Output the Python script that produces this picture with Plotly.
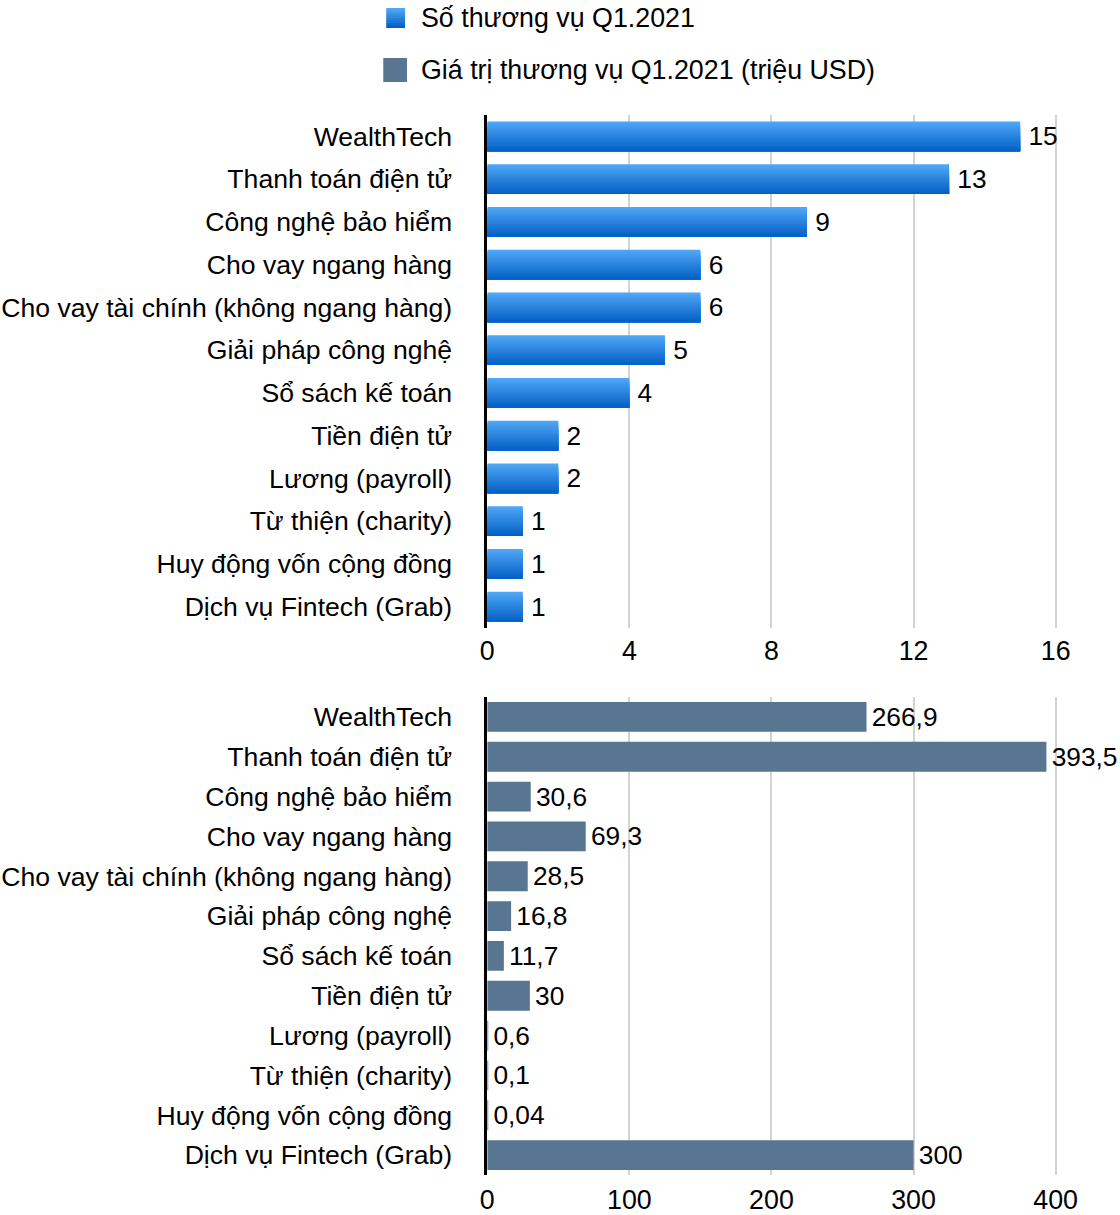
import plotly.graph_objects as go

categories = [
    "WealthTech",
    "Thanh toán điện tử",
    "Công nghệ bảo hiểm",
    "Cho vay ngang hàng",
    "Cho vay tài chính (không ngang hàng)",
    "Giải pháp công nghệ",
    "Sổ sách kế toán",
    "Tiền điện tử",
    "Lương (payroll)",
    "Từ thiện (charity)",
    "Huy động vốn cộng đồng",
    "Dịch vụ Fintech (Grab)",
]
deal_counts = [15, 13, 9, 6, 6, 5, 4, 2, 2, 1, 1, 1]
deal_values = [266.9, 393.5, 30.6, 69.3, 28.5, 16.8, 11.7, 30, 0.6, 0.1, 0.04, 300]
count_ticks = [0, 4, 8, 12, 16]
value_ticks = [0, 100, 200, 300, 400]
legend_labels = ["Số thương vụ Q1.2021", "Giá trị thương vụ Q1.2021 (triệu USD)"]

W, H = 1120, 1215
FONT = "Liberation Sans, Arial, Helvetica, sans-serif"
LIGHT = (78, 166, 246)
DARK = (5, 97, 198)
SLATE = "#587692"
TXT = 26.8
VAL = 26.3
CAT = 26.6


def mix(t):
    return "rgb(%d,%d,%d)" % tuple(round(LIGHT[k] + (DARK[k] - LIGHT[k]) * t) for k in range(3))


def fmt(v, pad="\u2009"):
    return pad + f"{v:g}".replace(".", ",")


def px_x(x):
    return x / W


def px_y(y):
    return 1 - y / H


fig = go.Figure()

# Top chart: gradient bars built from overlapping stripes
N = 14
BW = 0.70
for i in range(N):
    t = i / (N - 1)
    fig.add_trace(go.Bar(
        x=deal_counts, y=categories, orientation="h",
        xaxis="x", yaxis="y",
        marker=dict(color=mix(t), line=dict(width=0)),
        offset=-BW / 2 + i * BW / N, width=BW - i * BW / N,
        text=[fmt(v) for v in deal_counts] if i == 0 else None,
        textposition="outside" if i == 0 else "none",
        textfont=dict(size=VAL, color="black", family=FONT),
        cliponaxis=False, constraintext="none",
        showlegend=False, hoverinfo="skip" if i else "x+y",
    ))

# Bottom chart
fig.add_trace(go.Bar(
    x=deal_values, y=categories, orientation="h",
    xaxis="x2", yaxis="y2",
    marker=dict(color=SLATE, line=dict(width=0)),
    width=0.75,
    text=[fmt(v, "\u200a") for v in deal_values], textposition="outside",
    textfont=dict(size=VAL, color="black", family=FONT),
    cliponaxis=False, constraintext="none",
    showlegend=False,
))

xdom = [px_x(485), px_x(1077)]
axis_common = dict(
    showgrid=True, gridcolor="#D3D3D3", gridwidth=1.5, zeroline=False,
    showline=False, ticks="", tickfont=dict(size=TXT, color="black", family=FONT),
    fixedrange=True,
)
yaxis_common = dict(
    autorange="reversed", showgrid=False, zeroline=False,
    showline=True, linecolor="black", linewidth=2.5,
    ticks="", ticklabelstandoff=27,
    tickfont=dict(size=CAT, color="black", family=FONT),
    fixedrange=True,
)

shapes = []
annotations = []
# legend
leg_boxes = [(383, 402, 8, 28), (380, 404, 58, 82)]
leg_text_y = [18, 70]
for k, (x0, x1, y0, y1) in enumerate(leg_boxes):
    if k == 0:
        M = 8
        for j in range(M):
            ya = y0 + (y1 - y0) * j / M
            yb = y0 + (y1 - y0) * (j + 1) / M + 0.5
            shapes.append(dict(type="rect", xref="paper", yref="paper",
                               x0=px_x(x0), x1=px_x(x1), y0=px_y(ya), y1=px_y(min(yb, y1)),
                               fillcolor=mix(j / (M - 1)), line=dict(width=0)))
    else:
        shapes.append(dict(type="rect", xref="paper", yref="paper",
                           x0=px_x(x0), x1=px_x(x1), y0=px_y(y0), y1=px_y(y1),
                           fillcolor=SLATE, line=dict(width=0)))
    annotations.append(dict(text=legend_labels[k], xref="paper", yref="paper",
                            x=px_x(416), y=px_y(leg_text_y[k]), xanchor="left", yanchor="middle",
                            showarrow=False, font=dict(size=TXT, color="black", family=FONT)))

fig.update_layout(
    width=W, height=H,
    margin=dict(l=0, r=0, t=0, b=0),
    paper_bgcolor="white", plot_bgcolor="white",
    barmode="overlay",
    font=dict(family=FONT, color="black"),
    xaxis=dict(domain=xdom, anchor="y", range=[0, 16.5], tickvals=count_ticks,
               ticklabelstandoff=4, **axis_common),
    yaxis=dict(domain=[px_y(628), px_y(115)], anchor="x", **yaxis_common),
    xaxis2=dict(domain=xdom, anchor="y2", range=[0, 412.5], tickvals=value_ticks,
                ticklabelstandoff=6, **axis_common),
    yaxis2=dict(domain=[px_y(1175), px_y(697)], anchor="x2", **yaxis_common),
    shapes=shapes,
    annotations=annotations,
    showlegend=False,
)

fig.write_html("out.html")
